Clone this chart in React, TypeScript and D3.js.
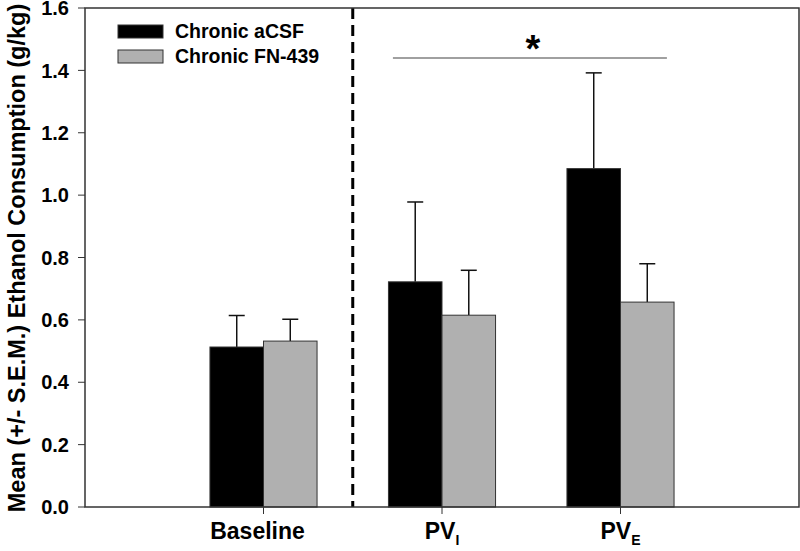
import React from "react";
import * as d3 from "d3";

// data
const groups = ["Baseline", "PV", "PV"];
const groupSubs = ["", "I", "E"];
const acsfMean = [0.513, 0.722, 1.085];
const acsfSem = [0.101, 0.256, 0.307];
const fnMean = [0.532, 0.615, 0.657];
const fnSem = [0.07, 0.144, 0.123];
const seriesNames = ["Chronic aCSF", "Chronic FN-439"];
const seriesColors = ["#000000", "#b0b0b0"];
const yTicks = [0, 0.2, 0.4, 0.6, 0.8, 1.0, 1.2, 1.4, 1.6];
const sigLine = { from: 1.725, to: 3.26, y: 1.44 };

const W = 800;
const H = 551;
const margin = { top: 8, right: 1, bottom: 44, left: 85 };
const font = "'Liberation Sans', Arial, Helvetica, sans-serif";

export default function App() {
  const x = d3.scaleLinear().domain([0, 4]).range([margin.left, W - margin.right]);
  const y = d3.scaleLinear().domain([0, 1.6]).range([H - margin.bottom, margin.top]);
  const barW = (x(1) - x(0)) * 0.3;
  const series = [
    { mean: acsfMean, sem: acsfSem },
    { mean: fnMean, sem: fnSem },
  ];
  const capW = 16;

  return (
    <svg
      width={W}
      height={H}
      style={{ position: "absolute", left: 0, top: 0, background: "#fff" }}
      fontFamily={font}
    >
      {/* bars + error bars */}
      {series.map((s, si) =>
        s.mean.map((m, i) => {
          const x0 = x(i + 1) - barW + si * barW;
          const cx = x0 + barW / 2;
          const top = y(m + s.sem[i]);
          return (
            <g key={`${si}-${i}`}>
              <line x1={cx} x2={cx} y1={y(m)} y2={top} stroke="#111" strokeWidth={1.5} />
              <line x1={cx - capW / 2} x2={cx + capW / 2} y1={top} y2={top} stroke="#111" strokeWidth={1.5} />
              <rect
                x={x0}
                y={y(m)}
                width={barW}
                height={y(0) - y(m)}
                fill={seriesColors[si]}
                stroke="#333"
                strokeWidth={1}
              />
            </g>
          );
        })
      )}

      {/* dashed divider */}
      <line
        x1={x(1.5)}
        x2={x(1.5)}
        y1={y(1.6)}
        y2={y(0)}
        stroke="#000"
        strokeWidth={3}
        strokeDasharray="11,6"
      />

      {/* frame */}
      <rect
        x={margin.left}
        y={margin.top}
        width={W - margin.right - margin.left}
        height={y(0) - margin.top}
        fill="none"
        stroke="#333"
        strokeWidth={1.5}
      />

      {/* y axis */}
      {yTicks.map((t) => (
        <g key={t}>
          <line x1={margin.left - 7} x2={margin.left} y1={y(t)} y2={y(t)} stroke="#333" strokeWidth={1} />
          <text
            x={69}
            y={y(t)}
            dy="0.36em"
            textAnchor="end"
            fontSize={20}
            fontWeight="bold"
          >
            {t.toFixed(1)}
          </text>
        </g>
      ))}
      <text
        transform={`translate(25,258) rotate(-90)`}
        textAnchor="middle"
        fontSize={23.5}
        fontWeight="bold"
      >
        Mean (+/- S.E.M.) Ethanol Consumption (g/kg)
      </text>

      {/* x axis */}
      {groups.map((g, i) => (
        <g key={i}>
          <line x1={x(i + 1)} x2={x(i + 1)} y1={y(0)} y2={y(0) + 7} stroke="#333" strokeWidth={1} />
          <text
            x={x(i + 1) - (groupSubs[i] ? 0 : 6)}
            y={539}
            textAnchor="middle"
            fontSize={23}
            fontWeight="bold"
          >
            {g}
            {groupSubs[i] && (
              <tspan fontSize={14} dy={6}>
                {groupSubs[i]}
              </tspan>
            )}
          </text>
        </g>
      ))}

      {/* significance */}
      <line
        x1={x(sigLine.from)}
        x2={x(sigLine.to)}
        y1={y(sigLine.y)}
        y2={y(sigLine.y)}
        stroke="#808080"
        strokeWidth={1.5}
      />
      <text
        x={(x(sigLine.from) + x(sigLine.to)) / 2 + 3}
        y={62}
        textAnchor="middle"
        fontSize={38}
        fontWeight="bold"
      >
        *
      </text>

      {/* legend */}
      {seriesNames.map((n, i) => (
        <g key={n} transform={`translate(118,${25 + i * 25})`}>
          <rect width={45} height={13} fill={seriesColors[i]} stroke="#333" strokeWidth={1} />
          <text x={57} y={12.5} fontSize={19.5} fontWeight="bold">
            {n}
          </text>
        </g>
      ))}
    </svg>
  );
}
